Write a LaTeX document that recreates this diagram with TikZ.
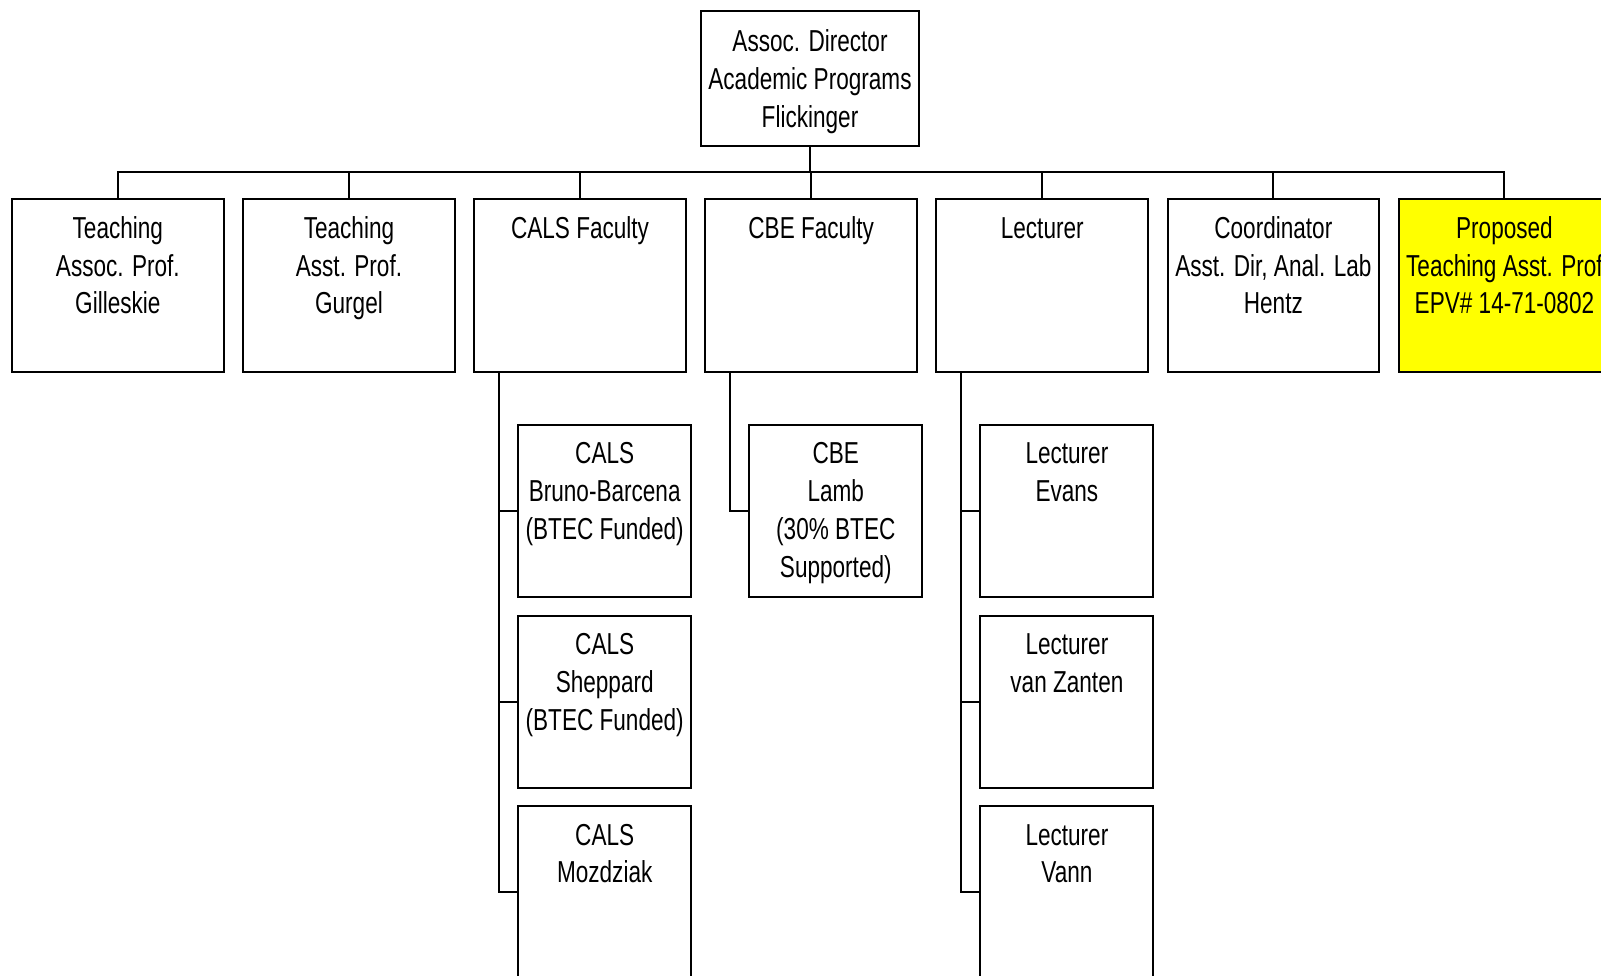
\documentclass[tikz,border=0pt]{standalone}
\usepackage{fontspec}
\setmainfont[FakeStretch=0.745]{Liberation Sans}
\definecolor{hiyellow}{RGB}{255,255,0}
\begin{document}
\begin{tikzpicture}[x=1pt,y=-1pt,
  box/.style={draw, line width=2pt, minimum width=211.7pt, minimum height=172.5pt, inner sep=0pt, anchor=north west},
  subbox/.style={draw, line width=2pt, minimum width=173pt, minimum height=172.3pt, inner sep=0pt, anchor=north west},
  lbl/.style={align=center, inner sep=0pt, anchor=north, font=\fontsize{30.3}{37.8}\selectfont},
  conn/.style={line width=2pt}]
\newcommand{\fl}{\rule{0pt}{24pt}}
\useasboundingbox (0,0) rectangle (1601,976);
\clip (0,0) rectangle (1601,976);
% director
\node[draw, line width=2pt, minimum width=218.6pt, minimum height=134.7pt, inner sep=0pt] (dir) at (810,78.3) {};
\node[lbl] (dirT) at ([yshift=-17.3pt]dir.north) {\fl Assoc. Director\\Academic Programs\\Flickinger};
% first row
\node[box] (p1) at (11,198.5) {};
\node[box] (p2) at (242.1,198.5) {};
\node[box] (p3) at (473.2,198.5) {};
\node[box] (p4) at (704.3,198.5) {};
\node[box] (p5) at (935.4,198.5) {};
\node[box] (p6) at (1166.5,198.5) {};
\node[box, fill=hiyellow] (p7) at (1397.6,198.5) {};
\node[lbl] (p1T) at ([yshift=-15.7pt]p1.north) {\fl Teaching\\Assoc. Prof.\\Gilleskie};
\node[lbl] (p2T) at ([yshift=-15.7pt]p2.north) {\fl Teaching\\Asst. Prof.\\Gurgel};
\node[lbl] (p3T) at ([yshift=-15.7pt]p3.north) {\fl CALS Faculty};
\node[lbl] (p4T) at ([yshift=-15.7pt]p4.north) {\fl CBE Faculty};
\node[lbl] (p5T) at ([yshift=-15.7pt]p5.north) {\fl Lecturer};
\node[lbl] (p6T) at ([yshift=-15.7pt]p6.north) {\fl Coordinator\\Asst. Dir, Anal. Lab\\Hentz};
\node[lbl] (p7T) at ([yshift=-15.7pt]p7.north) {\fl Proposed\\Teaching Asst. Prof\\EPV\# 14-71-0802};
% sub boxes
\node[subbox] (c1) at (517.2,423.7) {};
\node[subbox] (c2) at (517.2,614.5) {};
\node[subbox] (c3) at (517.2,805.2) {};
\node[subbox] (b1) at (748.3,423.7) {};
\node[subbox] (l1) at (979.4,423.7) {};
\node[subbox] (l2) at (979.4,614.5) {};
\node[subbox] (l3) at (979.4,805.2) {};
\node[lbl] (c1T) at ([yshift=-15.7pt]c1.north) {\fl CALS\\Bruno-Barcena\\(BTEC Funded)};
\node[lbl] (c2T) at ([yshift=-15.7pt]c2.north) {\fl CALS\\Sheppard\\(BTEC Funded)};
\node[lbl] (c3T) at ([yshift=-15.7pt]c3.north) {\fl CALS\\Mozdziak};
\node[lbl] (b1T) at ([yshift=-15.7pt]b1.north) {\fl CBE\\Lamb\\(30\% BTEC\\Supported)};
\node[lbl] (l1T) at ([yshift=-15.7pt]l1.north) {\fl Lecturer\\Evans};
\node[lbl] (l2T) at ([yshift=-15.7pt]l2.north) {\fl Lecturer\\van Zanten};
\node[lbl] (l3T) at ([yshift=-15.7pt]l3.north) {\fl Lecturer\\Vann};
% bus
\coordinate (bus) at (810,172.3);
\draw[conn] (dir.south) -- (bus);
\draw[conn] (p1.north) |- (bus) -| (p7.north);
\foreach \k in {2,...,6} {\draw[conn] (p\k.north) -- (p\k.north |- bus);}
% trunks
\coordinate (t3) at ([xshift=25.8pt]p3.south west);
\coordinate (t4) at ([xshift=25.8pt]p4.south west);
\coordinate (t5) at ([xshift=25.8pt]p5.south west);
\draw[conn] (t3) |- (c3.west);
\draw[conn] (c1.west -| t3) -- (c1.west);
\draw[conn] (c2.west -| t3) -- (c2.west);
\draw[conn] (t4) |- (b1.west);
\draw[conn] (t5) |- (l3.west);
\draw[conn] (l1.west -| t5) -- (l1.west);
\draw[conn] (l2.west -| t5) -- (l2.west);
\end{tikzpicture}
\end{document}
